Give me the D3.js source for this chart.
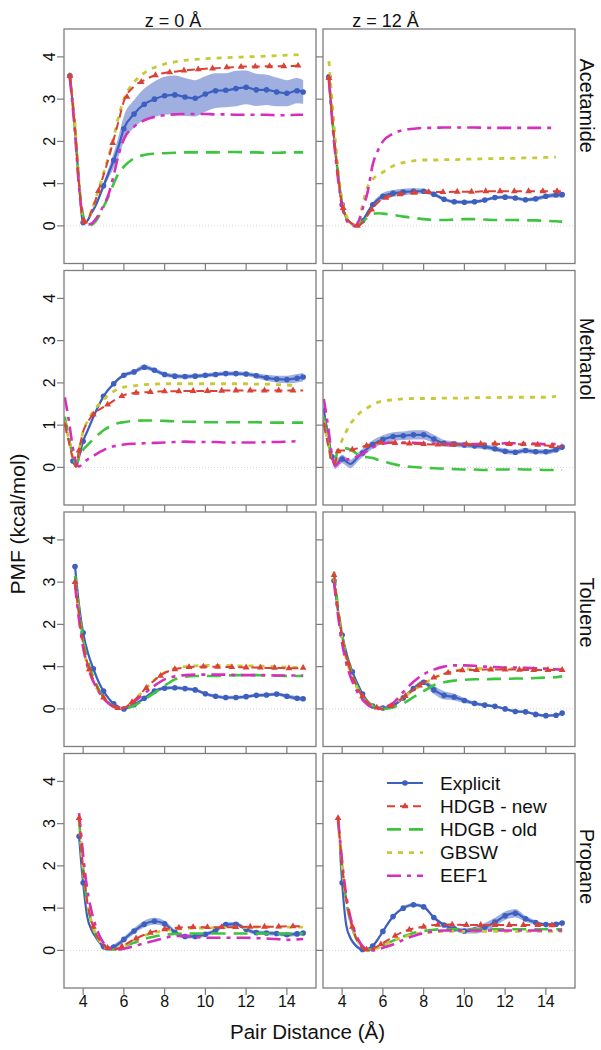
<!DOCTYPE html>
<html><head><meta charset="utf-8">
<script src="https://cdn.jsdelivr.net/npm/d3@7"></script>
<style>
body{margin:0;background:#fff}
svg{display:block}
text{font-family:"Liberation Sans",Arial,Helvetica,sans-serif;fill:#111}
</style>
</head><body>
<svg id="chart" width="601" height="1050"></svg>
<script>
// ---------- categories / labels ----------
const molecules = ["Acetamide", "Methanol", "Toluene", "Propane"];
const zHeaders = ["z = 0 Å", "z = 12 Å"];
const seriesNames = ["Explicit", "HDGB - new", "HDGB - old", "GBSW", "EEF1"];
const xTicks = [4, 6, 8, 10, 12, 14];
const yTicks = [0, 1, 2, 3, 4];
const xTitle = "Pair Distance (Å)";
const yTitle = "PMF (kcal/mol)";

// ---------- Acetamide ----------
const acetamideX = [3.35, 3.6, 3.8, 4.0, 4.2, 4.4, 4.6, 4.8, 5.0, 5.25, 5.5, 5.75, 6.0, 6.5, 7.0, 7.5, 8.0, 8.5, 9.0, 9.5, 10.0, 10.5, 11.0, 11.5, 12.0, 12.5, 13.0, 13.5, 14.0, 14.5, 14.8];
const acetamideZ0Explicit = [3.55, 2.3, 1.0, 0.08, 0.12, 0.3, 0.47, 0.7, 0.95, 1.25, 1.55, 1.9, 2.3, 2.65, 2.88, 3.0, 3.08, 3.1, 3.05, 3.02, 3.12, 3.2, 3.21, 3.25, 3.28, 3.22, 3.22, 3.17, 3.14, 3.2, 3.17];
const acetamideZ0Se = [0.03, 0.03, 0.03, 0.03, 0.03, 0.04, 0.05, 0.06, 0.08, 0.12, 0.18, 0.24, 0.3, 0.33, 0.37, 0.42, 0.45, 0.46, 0.45, 0.43, 0.42, 0.41, 0.4, 0.42, 0.4, 0.38, 0.36, 0.34, 0.31, 0.3, 0.28];
const acetamideZ0HdgbNew = [3.55, 2.3, 1.0, 0.1, 0.1, 0.35, 0.6, 0.9, 1.2, 1.6, 2.05, 2.5, 2.95, 3.3, 3.45, 3.56, 3.62, 3.65, 3.68, 3.7, 3.72, 3.73, 3.75, 3.76, 3.77, 3.77, 3.78, 3.78, 3.78, 3.79, 3.81];
const acetamideZ0HdgbOld = [3.55, 2.3, 1.0, 0.25, 0.03, 0.02, 0.1, 0.25, 0.45, 0.7, 1.0, 1.25, 1.4, 1.6, 1.68, 1.71, 1.72, 1.73, 1.74, 1.74, 1.74, 1.74, 1.75, 1.75, 1.74, 1.74, 1.73, 1.73, 1.74, 1.74, 1.74];
const acetamideZ0Gbsw = [3.5, 2.4, 1.05, 0.1, 0.1, 0.35, 0.62, 0.92, 1.25, 1.65, 2.1, 2.6, 3.0, 3.4, 3.62, 3.75, 3.83, 3.88, 3.92, 3.94, 3.96, 3.97, 3.98, 3.99, 4.0, 4.01, 4.02, 4.03, 4.04, 4.05, 4.06];
const acetamideZ0Eef1 = [3.5, 2.2, 0.9, 0.2, 0.03, 0.05, 0.15, 0.3, 0.48, 0.75, 1.2, 1.7, 2.05, 2.35, 2.5, 2.58, 2.62, 2.64, 2.65, 2.65, 2.65, 2.64, 2.64, 2.63, 2.63, 2.63, 2.63, 2.62, 2.62, 2.63, 2.63];
const acetamideZ12Explicit = [3.53, 2.1, 1.2, 0.5, 0.2, 0.08, 0.02, 0.0, 0.12, 0.32, 0.5, 0.62, 0.7, 0.77, 0.8, 0.82, 0.82, 0.75, 0.63, 0.57, 0.56, 0.57, 0.61, 0.67, 0.68, 0.66, 0.62, 0.64, 0.7, 0.73, 0.74];
const acetamideZ12Se = [0.03, 0.03, 0.03, 0.03, 0.03, 0.03, 0.03, 0.03, 0.04, 0.05, 0.06, 0.07, 0.08, 0.08, 0.08, 0.07, 0.06, 0.05, 0.04, 0.04, 0.04, 0.04, 0.04, 0.04, 0.04, 0.04, 0.04, 0.05, 0.05, 0.06, 0.06];
const acetamideZ12HdgbNew = [3.5, 2.1, 1.2, 0.5, 0.2, 0.08, 0.02, 0.0, 0.08, 0.25, 0.42, 0.55, 0.64, 0.72, 0.76, 0.78, 0.8, 0.8, 0.8, 0.81, 0.81, 0.81, 0.82, 0.82, 0.82, 0.82, 0.82, 0.82, 0.82, 0.82, 0.82];
const acetamideZ12HdgbOld = [3.5, 2.1, 1.2, 0.5, 0.2, 0.06, 0.0, 0.03, 0.1, 0.2, 0.28, 0.3, 0.29, 0.26, 0.22, 0.19, 0.16, 0.14, 0.14, 0.15, 0.16, 0.16, 0.15, 0.14, 0.14, 0.14, 0.13, 0.13, 0.12, 0.11, 0.1];
const acetamideZ12Gbsw = [3.9, 2.4, 1.35, 0.6, 0.25, 0.08, 0.01, 0.05, 0.5, 0.92, 1.1, 1.2, 1.27, 1.42, 1.5, 1.54, 1.56, 1.56, 1.57, 1.57, 1.58, 1.58, 1.59, 1.59, 1.6, 1.6, 1.61, 1.61, 1.62, 1.63, null];
const acetamideZ12Eef1 = [3.45, 2.0, 1.1, 0.45, 0.15, 0.03, 0.0, 0.1, 0.4, 0.8, 1.45, 1.78, 2.0, 2.18, 2.27, 2.3, 2.32, 2.32, 2.33, 2.33, 2.33, 2.33, 2.32, 2.32, 2.32, 2.32, 2.32, 2.32, 2.32, 2.32, null];

// ---------- Methanol ----------
const methanolX = [3.1, 3.3, 3.5, 3.65, 3.8, 4.0, 4.2, 4.4, 4.6, 4.8, 5.0, 5.25, 5.5, 5.75, 6.0, 6.5, 7.0, 7.5, 8.0, 8.5, 9.0, 9.5, 10.0, 10.5, 11.0, 11.5, 12.0, 12.5, 13.0, 13.5, 14.0, 14.5, 14.8];
const methanolZ0Explicit = [null, null, 0.15, 0.02, 0.25, 0.62, 0.85, 1.08, 1.3, 1.5, 1.68, 1.85, 1.98, 2.1, 2.18, 2.26, 2.37, 2.3, 2.2, 2.16, 2.15, 2.16, 2.18, 2.2, 2.22, 2.22, 2.21, 2.17, 2.12, 2.09, 2.08, 2.11, 2.14];
const methanolZ0Se = [null, null, 0.03, 0.03, 0.03, 0.03, 0.03, 0.03, 0.03, 0.03, 0.03, 0.03, 0.04, 0.04, 0.04, 0.05, 0.06, 0.05, 0.05, 0.05, 0.05, 0.05, 0.05, 0.05, 0.05, 0.05, 0.05, 0.06, 0.07, 0.08, 0.09, 0.1, 0.1];
const methanolZ0HdgbNew = [1.0, 0.6, 0.2, 0.02, 0.4, 0.85, 1.05, 1.2, 1.3, 1.37, 1.43, 1.5, 1.58, 1.65, 1.71, 1.76, 1.78, 1.79, 1.8, 1.8, 1.81, 1.81, 1.81, 1.81, 1.82, 1.82, 1.82, 1.82, 1.82, 1.82, 1.82, 1.82, 1.82];
const methanolZ0HdgbOld = [1.2, 0.7, 0.25, 0.05, 0.25, 0.42, 0.52, 0.62, 0.72, 0.8, 0.88, 0.95, 1.01, 1.05, 1.07, 1.1, 1.11, 1.11, 1.1, 1.09, 1.08, 1.08, 1.07, 1.07, 1.07, 1.07, 1.07, 1.07, 1.06, 1.06, 1.06, 1.06, 1.06];
const methanolZ0Gbsw = [1.1, 0.65, 0.22, 0.03, 0.4, 0.85, 1.08, 1.25, 1.4, 1.5, 1.6, 1.72, 1.8, 1.86, 1.9, 1.93, 1.96, 1.97, 1.98, 1.98, 1.98, 1.98, 1.98, 1.98, 1.98, 1.98, 1.98, 1.97, 1.97, 1.96, 1.95, 1.93, null];
const methanolZ0Eef1 = [1.66, 1.1, 0.45, 0.12, 0.02, 0.1, 0.18, 0.24, 0.3, 0.36, 0.41, 0.46, 0.5, 0.52, 0.54, 0.56, 0.57, 0.58, 0.59, 0.6, 0.61, 0.6, 0.6, 0.6, 0.59, 0.59, 0.59, 0.59, 0.6, 0.6, 0.61, 0.62, null];
const methanolZ12Explicit = [1.35, 0.8, 0.25, 0.06, 0.12, 0.2, 0.14, 0.08, 0.15, 0.26, 0.34, 0.45, 0.54, 0.61, 0.66, 0.73, 0.75, 0.77, 0.77, 0.67, 0.57, 0.55, 0.53, 0.51, 0.49, 0.44, 0.38, 0.36, 0.4, 0.37, 0.37, 0.42, 0.48];
const methanolZ12Se = [0.1, 0.1, 0.1, 0.1, 0.1, 0.1, 0.1, 0.1, 0.1, 0.1, 0.1, 0.1, 0.1, 0.1, 0.1, 0.1, 0.1, 0.11, 0.11, 0.1, 0.08, 0.07, 0.06, 0.06, 0.06, 0.06, 0.06, 0.06, 0.06, 0.06, 0.06, 0.06, 0.06];
const methanolZ12HdgbNew = [1.0, 0.55, 0.15, 0.1, 0.38, 0.4, 0.4, 0.41, 0.43, 0.46, 0.49, 0.52, 0.55, 0.58, 0.59, 0.58, 0.57, 0.56, 0.55, 0.54, 0.54, 0.54, 0.55, 0.55, 0.56, 0.56, 0.55, 0.55, 0.55, 0.54, 0.52, 0.5, 0.48];
const methanolZ12HdgbOld = [1.2, 0.7, 0.2, 0.16, 0.44, 0.46, 0.45, 0.42, 0.36, 0.3, 0.26, 0.24, 0.22, 0.18, 0.15, 0.08, 0.03, 0.01, -0.01, -0.02, -0.03, -0.04, -0.05, -0.05, -0.06, -0.05, -0.05, -0.04, -0.05, -0.05, -0.06, -0.06, -0.06];
const methanolZ12Gbsw = [1.1, 0.6, 0.15, 0.1, 0.35, 0.65, 0.85, 1.03, 1.15, 1.26, 1.34, 1.41, 1.48, 1.54, 1.57, 1.6, 1.62, 1.63, 1.63, 1.63, 1.64, 1.64, 1.64, 1.65, 1.65, 1.65, 1.66, 1.66, 1.66, 1.66, 1.66, 1.68, null];
const methanolZ12Eef1 = [1.62, 1.0, 0.3, 0.04, 0.1, 0.15, 0.18, 0.2, 0.23, 0.27, 0.32, 0.4, 0.47, 0.53, 0.56, 0.59, 0.59, 0.58, 0.57, 0.56, 0.55, 0.55, 0.55, 0.55, 0.56, 0.56, 0.57, 0.57, 0.57, 0.56, 0.55, 0.55, 0.55];

// ---------- Toluene ----------
const tolueneX = [3.6, 3.8, 4.0, 4.25, 4.5, 4.75, 5.0, 5.25, 5.5, 5.75, 6.0, 6.25, 6.5, 7.0, 7.5, 8.0, 8.5, 9.0, 9.5, 10.0, 10.5, 11.0, 11.5, 12.0, 12.5, 13.0, 13.5, 14.0, 14.5, 14.8];
const tolueneZ0Explicit = [3.37, 2.45, 1.8, 1.3, 0.95, 0.65, 0.42, 0.25, 0.12, 0.04, 0.0, 0.04, 0.1, 0.25, 0.42, 0.49, 0.5, 0.48, 0.45, 0.36, 0.3, 0.27, 0.27, 0.29, 0.32, 0.33, 0.35, 0.3, 0.25, 0.24];
const tolueneZ0Se = [0.03, 0.03, 0.03, 0.03, 0.03, 0.03, 0.03, 0.03, 0.03, 0.03, 0.03, 0.03, 0.03, 0.04, 0.04, 0.04, 0.04, 0.04, 0.04, 0.04, 0.04, 0.04, 0.04, 0.04, 0.04, 0.04, 0.04, 0.05, 0.05, 0.05];
const tolueneZ0HdgbNew = [3.0, 2.2, 1.55, 1.0, 0.7, 0.45, 0.27, 0.15, 0.06, 0.01, 0.02, 0.1, 0.2, 0.45, 0.68, 0.85, 0.94, 0.98, 1.0, 1.0, 1.0, 0.99, 0.99, 0.98, 0.98, 0.97, 0.97, 0.96, 0.96, 0.97];
const tolueneZ0HdgbOld = [3.15, 2.35, 1.65, 1.1, 0.75, 0.48, 0.28, 0.15, 0.06, 0.01, 0.0, 0.03, 0.08, 0.22, 0.38, 0.55, 0.7, 0.76, 0.78, 0.78, 0.78, 0.79, 0.8, 0.8, 0.8, 0.79, 0.79, 0.78, 0.78, 0.78];
const tolueneZ0Gbsw = [3.05, 2.2, 1.5, 0.95, 0.65, 0.42, 0.25, 0.13, 0.05, 0.01, 0.03, 0.1, 0.2, 0.45, 0.68, 0.86, 0.96, 1.0, 1.02, 1.03, 1.03, 1.03, 1.02, 1.02, 1.02, 1.01, 1.0, 0.99, 0.98, 0.98];
const tolueneZ0Eef1 = [2.95, 2.1, 1.45, 0.95, 0.65, 0.42, 0.25, 0.13, 0.05, 0.01, 0.03, 0.08, 0.17, 0.36, 0.55, 0.7, 0.77, 0.8, 0.81, 0.81, 0.81, 0.81, 0.8, 0.8, 0.8, 0.8, 0.79, 0.79, 0.79, 0.79];
const tolueneZ12Explicit = [3.03, 2.3, 1.75, 1.25, 0.88, 0.6, 0.35, 0.18, 0.07, 0.03, 0.02, 0.04, 0.08, 0.26, 0.48, 0.63, 0.45, 0.32, 0.28, 0.2, 0.13, 0.09, 0.06, 0.0, -0.06, -0.07, -0.13, -0.16, -0.15, -0.1];
const tolueneZ12Se = [0.03, 0.03, 0.03, 0.03, 0.03, 0.03, 0.03, 0.03, 0.03, 0.03, 0.03, 0.03, 0.03, 0.04, 0.05, 0.06, 0.1, 0.1, 0.08, 0.06, 0.04, 0.04, 0.03, 0.03, 0.03, 0.03, 0.03, 0.03, 0.03, 0.03];
const tolueneZ12HdgbNew = [3.17, 2.35, 1.7, 1.15, 0.78, 0.5, 0.3, 0.16, 0.07, 0.02, 0.0, 0.03, 0.09, 0.27, 0.45, 0.62, 0.74, 0.83, 0.89, 0.92, 0.92, 0.93, 0.93, 0.93, 0.93, 0.92, 0.92, 0.92, 0.92, 0.92];
const tolueneZ12HdgbOld = [3.25, 2.4, 1.75, 1.2, 0.82, 0.52, 0.32, 0.17, 0.08, 0.02, 0.0, 0.01, 0.04, 0.13, 0.28, 0.42, 0.56, 0.63, 0.67, 0.69, 0.7, 0.7, 0.71, 0.71, 0.72, 0.72, 0.73, 0.74, 0.75, 0.77];
const tolueneZ12Gbsw = [3.1, 2.3, 1.65, 1.1, 0.75, 0.48, 0.28, 0.14, 0.06, 0.02, 0.01, 0.04, 0.1, 0.27, 0.44, 0.6, 0.73, 0.83, 0.9, 0.94, 0.95, 0.95, 0.96, 0.96, 0.96, 0.95, 0.95, 0.95, 0.94, 0.94];
const tolueneZ12Eef1 = [3.0, 2.2, 1.55, 1.0, 0.65, 0.4, 0.22, 0.1, 0.03, 0.0, 0.02, 0.07, 0.14, 0.4, 0.64, 0.82, 0.93, 1.0, 1.03, 1.03, 1.02, 1.0, 0.99, 0.98, 0.98, 0.97, 0.96, 0.95, 0.94, 0.93];

// ---------- Propane ----------
const propaneX = [3.8, 3.9, 4.0, 4.2, 4.4, 4.6, 4.8, 5.0, 5.25, 5.5, 5.75, 6.0, 6.5, 7.0, 7.5, 8.0, 8.5, 9.0, 9.5, 10.0, 10.5, 11.0, 11.5, 12.0, 12.5, 13.0, 13.5, 14.0, 14.5, 14.8];
const propaneZ0Explicit = [2.7, 2.1, 1.6, 0.8, 0.5, 0.33, 0.19, 0.09, 0.04, 0.08, 0.16, 0.26, 0.46, 0.62, 0.69, 0.63, 0.43, 0.33, 0.33, 0.38, 0.47, 0.61, 0.62, 0.5, 0.42, 0.41, 0.4, 0.37, 0.39, 0.41];
const propaneZ0Se = [0.05, 0.05, 0.05, 0.05, 0.05, 0.05, 0.05, 0.06, 0.06, 0.06, 0.06, 0.06, 0.07, 0.08, 0.08, 0.07, 0.06, 0.05, 0.05, 0.05, 0.05, 0.05, 0.05, 0.05, 0.05, 0.05, 0.05, 0.05, 0.05, 0.05];
const propaneZ0HdgbNew = [3.13, 2.5, 1.95, 1.15, 0.7, 0.42, 0.24, 0.12, 0.04, 0.02, 0.05, 0.12, 0.26, 0.37, 0.45, 0.5, 0.53, 0.55, 0.55, 0.55, 0.55, 0.55, 0.55, 0.56, 0.56, 0.56, 0.56, 0.57, 0.57, 0.57];
const propaneZ0HdgbOld = [3.1, 2.5, 1.95, 1.15, 0.68, 0.4, 0.22, 0.1, 0.03, 0.02, 0.05, 0.1, 0.18, 0.27, 0.33, 0.37, 0.39, 0.4, 0.4, 0.4, 0.4, 0.4, 0.4, 0.4, 0.4, 0.4, 0.4, 0.4, 0.4, 0.4];
const propaneZ0Gbsw = [3.1, 2.48, 1.92, 1.12, 0.68, 0.4, 0.22, 0.1, 0.03, 0.02, 0.05, 0.11, 0.24, 0.35, 0.42, 0.47, 0.5, 0.52, 0.53, 0.53, 0.54, 0.54, 0.54, 0.54, 0.55, 0.55, 0.55, 0.55, 0.55, 0.55];
const propaneZ0Eef1 = [3.25, 2.75, 2.25, 1.45, 0.95, 0.6, 0.35, 0.18, 0.07, 0.02, 0.02, 0.04, 0.1, 0.17, 0.23, 0.29, 0.34, 0.34, 0.32, 0.3, 0.3, 0.3, 0.3, 0.3, 0.29, 0.28, 0.27, 0.25, 0.26, 0.27];
const propaneZ12Explicit = [null, 2.34, 1.6, 0.6, 0.3, 0.15, 0.06, 0.02, 0.03, 0.1, 0.26, 0.45, 0.8, 1.0, 1.08, 1.03, 0.78, 0.6, 0.51, 0.46, 0.48, 0.55, 0.67, 0.82, 0.88, 0.75, 0.66, 0.61, 0.62, 0.65];
const propaneZ12Se = [null, 0.04, 0.04, 0.04, 0.04, 0.04, 0.04, 0.04, 0.04, 0.04, 0.04, 0.04, 0.04, 0.04, 0.04, 0.04, 0.04, 0.04, 0.05, 0.06, 0.08, 0.1, 0.1, 0.1, 0.1, 0.07, 0.05, 0.04, 0.04, 0.04];
const propaneZ12HdgbNew = [3.13, 2.55, 2.0, 1.2, 0.72, 0.4, 0.18, 0.06, 0.01, 0.04, 0.1, 0.17, 0.32, 0.44, 0.52, 0.56, 0.6, 0.61, 0.61, 0.6, 0.6, 0.6, 0.6, 0.6, 0.6, 0.6, 0.6, 0.6, 0.59, 0.59];
const propaneZ12HdgbOld = [3.1, 2.52, 1.98, 1.18, 0.7, 0.38, 0.18, 0.06, 0.01, 0.03, 0.07, 0.12, 0.23, 0.33, 0.41, 0.46, 0.49, 0.5, 0.5, 0.5, 0.5, 0.5, 0.5, 0.5, 0.5, 0.5, 0.5, 0.5, 0.5, 0.5];
const propaneZ12Gbsw = [3.05, 2.5, 1.98, 1.2, 0.72, 0.4, 0.2, 0.07, 0.01, 0.02, 0.06, 0.11, 0.22, 0.31, 0.38, 0.42, 0.44, 0.45, 0.45, 0.45, 0.45, 0.45, 0.45, 0.45, 0.45, 0.45, 0.45, 0.45, 0.45, 0.45];
const propaneZ12Eef1 = [3.1, 2.6, 2.1, 1.3, 0.8, 0.47, 0.25, 0.1, 0.02, 0.0, 0.02, 0.06, 0.14, 0.25, 0.34, 0.41, 0.45, 0.47, 0.47, 0.47, 0.47, 0.47, 0.47, 0.47, 0.47, 0.47, 0.47, 0.47, 0.47, 0.47];

// ---------- assemble panels ----------
const panels = [
  {row:0,col:0,x:acetamideX,exp:acetamideZ0Explicit,se:acetamideZ0Se,s:[acetamideZ0HdgbOld,acetamideZ0Gbsw,acetamideZ0Eef1,acetamideZ0HdgbNew]},
  {row:0,col:1,x:acetamideX,exp:acetamideZ12Explicit,se:acetamideZ12Se,s:[acetamideZ12HdgbOld,acetamideZ12Gbsw,acetamideZ12Eef1,acetamideZ12HdgbNew]},
  {row:1,col:0,x:methanolX,exp:methanolZ0Explicit,se:methanolZ0Se,s:[methanolZ0HdgbOld,methanolZ0Gbsw,methanolZ0Eef1,methanolZ0HdgbNew]},
  {row:1,col:1,x:methanolX,exp:methanolZ12Explicit,se:methanolZ12Se,s:[methanolZ12HdgbOld,methanolZ12Gbsw,methanolZ12Eef1,methanolZ12HdgbNew]},
  {row:2,col:0,x:tolueneX,exp:tolueneZ0Explicit,se:tolueneZ0Se,s:[tolueneZ0HdgbOld,tolueneZ0Gbsw,tolueneZ0Eef1,tolueneZ0HdgbNew]},
  {row:2,col:1,x:tolueneX,exp:tolueneZ12Explicit,se:tolueneZ12Se,s:[tolueneZ12HdgbOld,tolueneZ12Gbsw,tolueneZ12Eef1,tolueneZ12HdgbNew]},
  {row:3,col:0,x:propaneX,exp:propaneZ0Explicit,se:propaneZ0Se,s:[propaneZ0HdgbOld,propaneZ0Gbsw,propaneZ0Eef1,propaneZ0HdgbNew]},
  {row:3,col:1,x:propaneX,exp:propaneZ12Explicit,se:propaneZ12Se,s:[propaneZ12HdgbOld,propaneZ12Gbsw,propaneZ12Eef1,propaneZ12HdgbNew]}
];

// styles (order of s: HDGB-old, GBSW, EEF1, HDGB-new)
const C_EXP = "#3d5fc0", C_BAND = "#7f95d6";
const implicitStyle = [
  {color:"#3dc53d", dash:"14,8", w:2.6},   // HDGB - old
  {color:"#c9c935", dash:"5,6", w:2.8},    // GBSW
  {color:"#d62fbd", dash:"14,6,4,6", w:2.6}, // EEF1
  {color:"#dd4035", dash:"8,5", w:2.0}     // HDGB - new
];

// ---------- layout ----------
const svg = d3.select("#chart");
const colX = [64, 323], colW = 252;
const rowY = [29, 270.5, 512, 753.5], rowH = 234.5;
const TICK = 7;
const x = d3.scaleLinear().domain([3.06, 15.43]).range([0, colW]);
const y = d3.scaleLinear().domain([-0.89, 4.66]).range([rowH, 0]);
const FRAME = "#7d7d7d";

function lerpAt(xs, ys, xv){
  for(let i=0;i<xs.length-1;i++){
    if(xv>=xs[i] && xv<=xs[i+1] && ys[i]!=null && ys[i+1]!=null){
      const t=(xv-xs[i])/(xs[i+1]-xs[i]); return ys[i]+t*(ys[i+1]-ys[i]);
    }
  }
  return null;
}

panels.forEach((p, k) => {
  const g = svg.append("g").attr("transform", `translate(${colX[p.col]},${rowY[p.row]})`);
  const cid = "clip" + k;
  g.append("clipPath").attr("id", cid).append("rect").attr("width", colW).attr("height", rowH);
  const pg = g.append("g").attr("clip-path", `url(#${cid})`);

  // zero line
  pg.append("line").attr("x1",0).attr("x2",colW).attr("y1",y(0)).attr("y2",y(0))
    .attr("stroke","#c8c8c8").attr("stroke-width",0.8).attr("stroke-dasharray","1,2");

  // explicit band + line + markers
  const pts = p.x.map((xv,i)=>({x:xv, y:p.exp[i], se:p.se[i]}));
  pg.append("path").datum(pts)
    .attr("d", d3.area().defined(d=>d.y!=null && d.se!=null)
      .x(d=>x(d.x)).y0(d=>y(d.y-d.se)).y1(d=>y(d.y+d.se)).curve(d3.curveMonotoneX))
    .attr("fill", C_BAND).attr("fill-opacity", 0.75);
  pg.append("path").datum(pts)
    .attr("d", d3.line().defined(d=>d.y!=null).x(d=>x(d.x)).y(d=>y(d.y)).curve(d3.curveMonotoneX))
    .attr("fill","none").attr("stroke",C_EXP).attr("stroke-width",2.2);
  pg.selectAll("circle.m").data(pts.filter((d,i)=>d.y!=null && (Math.abs(d.x*2-Math.round(d.x*2))<1e-6 || i===pts.length-1 || i===0)))
    .enter().append("circle").attr("cx",d=>x(d.x)).attr("cy",d=>y(d.y)).attr("r",2.8).attr("fill",C_EXP);

  // implicit series
  p.s.forEach((vals, si) => {
    const st = implicitStyle[si];
    const d2 = p.x.map((xv,i)=>({x:xv, y:vals[i]}));
    pg.append("path").datum(d2)
      .attr("d", d3.line().defined(d=>d.y!=null).x(d=>x(d.x)).y(d=>y(d.y)).curve(d3.curveMonotoneX))
      .attr("fill","none").attr("stroke",st.color).attr("stroke-width",st.w)
      .attr("stroke-dasharray",st.dash);
    if (si === 3) {
      const tri = [];
      for (let xv = p.x[0]; xv <= p.x[p.x.length-1] + 1e-6; xv += 0.7) {
        const yv = lerpAt(p.x, vals, xv);
        if (yv != null) tri.push({x:xv, y:yv});
      }
      pg.selectAll("path.tri").data(tri).enter().append("path")
        .attr("d", d3.symbol(d3.symbolTriangle, 20)())
        .attr("transform", d=>`translate(${x(d.x)},${y(d.y)})`)
        .attr("fill", st.color);
    }
  });

  // frame
  g.append("rect").attr("width",colW).attr("height",rowH).attr("fill","none")
    .attr("stroke",FRAME).attr("stroke-width",1.3);
  // bottom ticks
  g.selectAll("line.xt").data(xTicks).enter().append("line")
    .attr("x1",d=>x(d)).attr("x2",d=>x(d)).attr("y1",rowH).attr("y2",rowH+TICK)
    .attr("stroke",FRAME).attr("stroke-width",1.2);
  // left ticks
  g.selectAll("line.yt").data(yTicks).enter().append("line")
    .attr("x1",-TICK).attr("x2",0).attr("y1",d=>y(d)).attr("y2",d=>y(d))
    .attr("stroke",FRAME).attr("stroke-width",1.2);

  if (p.col === 0) {
    g.selectAll("text.yl").data(yTicks).enter().append("text")
      .attr("transform", d=>`translate(-9,${y(d)}) rotate(-90)`)
      .attr("text-anchor","middle").attr("font-size",16).text(d=>d);
  }
  if (p.row === 3) {
    g.selectAll("text.xl").data(xTicks).enter().append("text")
      .attr("x", d=>x(d)).attr("y", rowH+19).attr("text-anchor","middle")
      .attr("font-size",16).text(d=>d);
  }
});

// column headers
const headerX = [173, 385.5];
zHeaders.forEach((t,i)=>{
  svg.append("text").attr("x",headerX[i]).attr("y",27).attr("text-anchor","middle")
    .attr("font-size",18).text(t);
});
// row strip labels
const stripY = [105.7, 359, 612.5, 866.5];
molecules.forEach((m,i)=>{
  svg.append("text").attr("transform",`translate(580,${stripY[i]}) rotate(90)`)
    .attr("text-anchor","middle").attr("font-size",20).text(m);
});
// axis titles
svg.append("text").attr("transform","translate(25,524) rotate(-90)")
  .attr("text-anchor","middle").attr("font-size",21).text(yTitle);
svg.append("text").attr("x",307.5).attr("y",1039).attr("text-anchor","middle")
  .attr("font-size",20.5).text(xTitle);

// legend (inside Propane, z = 12 panel)
const lg = svg.append("g").attr("transform", `translate(${colX[1]},${rowY[3]})`);
const legStyles = [
  {color:C_EXP, dash:null, w:2.2, mark:"circle"},
  {color:implicitStyle[3].color, dash:implicitStyle[3].dash, w:implicitStyle[3].w, mark:"tri"},
  {color:implicitStyle[0].color, dash:implicitStyle[0].dash, w:implicitStyle[0].w},
  {color:implicitStyle[1].color, dash:implicitStyle[1].dash, w:implicitStyle[1].w},
  {color:implicitStyle[2].color, dash:implicitStyle[2].dash, w:implicitStyle[2].w}
];
seriesNames.forEach((n,i)=>{
  const cy = 29.5 + i*23.2;
  const st = legStyles[i];
  const ln = lg.append("line").attr("x1",64).attr("x2",100).attr("y1",cy).attr("y2",cy)
    .attr("stroke",st.color).attr("stroke-width",st.w);
  if (st.dash) ln.attr("stroke-dasharray",st.dash);
  if (st.mark==="circle") lg.append("circle").attr("cx",82).attr("cy",cy).attr("r",2.8).attr("fill",st.color);
  if (st.mark==="tri") lg.append("path").attr("d",d3.symbol(d3.symbolTriangle,20)())
    .attr("transform",`translate(82,${cy})`).attr("fill",st.color);
  lg.append("text").attr("x",117).attr("y",cy+6.5).attr("font-size",19).text(n);
});
</script>
</body></html>
